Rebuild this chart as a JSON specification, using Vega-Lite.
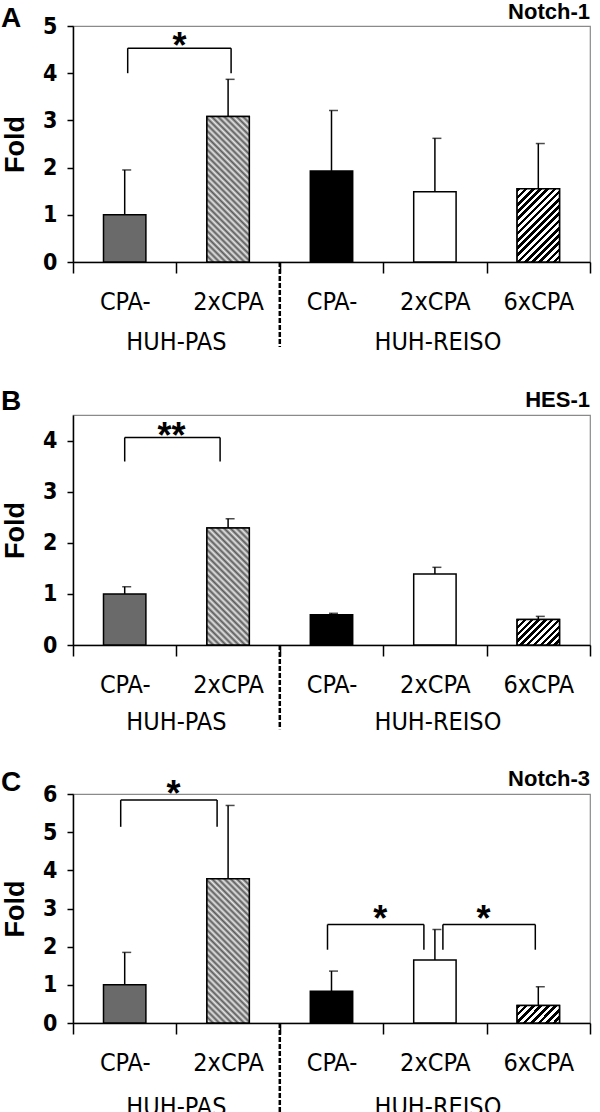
{
  "$schema": "https://vega.github.io/schema/vega-lite/v6.json",
  "padding": {"top": 0, "left": 0, "right": 0, "bottom": 0},
  "background": "white",
  "datasets": {
    "bars": [
      {"panel": "A", "bar": "PAS CPA-", "value": 1.0, "hi": 1.95},
      {"panel": "A", "bar": "PAS 2xCPA", "value": 3.08, "hi": 3.87},
      {"panel": "A", "bar": "REISO CPA-", "value": 1.93, "hi": 3.21},
      {"panel": "A", "bar": "REISO 2xCPA", "value": 1.49, "hi": 2.62},
      {"panel": "A", "bar": "REISO 6xCPA", "value": 1.55, "hi": 2.51},
      {"panel": "B", "bar": "PAS CPA-", "value": 1.0, "hi": 1.14},
      {"panel": "B", "bar": "PAS 2xCPA", "value": 2.29, "hi": 2.47},
      {"panel": "B", "bar": "REISO CPA-", "value": 0.59, "hi": 0.62},
      {"panel": "B", "bar": "REISO 2xCPA", "value": 1.39, "hi": 1.52},
      {"panel": "B", "bar": "REISO 6xCPA", "value": 0.5, "hi": 0.56},
      {"panel": "C", "bar": "PAS CPA-", "value": 1.0, "hi": 1.85},
      {"panel": "C", "bar": "PAS 2xCPA", "value": 3.78, "hi": 5.7},
      {"panel": "C", "bar": "REISO CPA-", "value": 0.83, "hi": 1.36},
      {"panel": "C", "bar": "REISO 2xCPA", "value": 1.65, "hi": 2.45},
      {"panel": "C", "bar": "REISO 6xCPA", "value": 0.46, "hi": 0.95}
    ],
    "brackets": [
      {"panel": "A", "id": 1, "from": "PAS CPA-", "to": "PAS 2xCPA", "top": 4.53, "bot": 4.0, "star": "*"},
      {"panel": "B", "id": 1, "from": "PAS CPA-", "to": "PAS 2xCPA", "top": 4.06, "bot": 3.59, "star": "**"},
      {"panel": "C", "id": 1, "from": "PAS CPA-", "to": "PAS 2xCPA", "top": 5.84, "bot": 5.14, "star": "*"},
      {"panel": "C", "id": 2, "from": "REISO CPA-", "to": "REISO 2xCPA", "top": 2.58, "bot": 1.92, "star": "*"},
      {"panel": "C", "id": 3, "from": "REISO 2xCPA", "to": "REISO 6xCPA", "top": 2.58, "bot": 1.92, "star": "*"}
    ],
    "one": [{}]
  },
  "spacing": 31,
  "resolve": {"scale": {"x": "independent", "y": "independent", "fill": "shared"}},
  "vconcat": [
    {
      "width": 517,
      "height": 236,
      "layer": [
        {
          "data": {"name": "bars"},
          "transform": [{"filter": "datum.panel === 'A'"}],
          "mark": {"type": "bar", "width": {"band": 0.41}, "stroke": "#000", "strokeWidth": 1.5},
          "encoding": {
            "x": {"field": "bar", "type": "nominal", "title": null, "sort": null,
                  "scale": {"domain": ["PAS CPA-", "PAS 2xCPA", "REISO CPA-", "REISO 2xCPA", "REISO 6xCPA"], "paddingInner": 0, "paddingOuter": 0},
                  "axis": {"labelExpr": "split(datum.label, ' ')[1]"}},
            "y": {"field": "value", "type": "quantitative", "title": "Fold",
                  "scale": {"domain": [0, 5], "nice": false}, "axis": {"values": [0, 1, 2, 3, 4, 5], "tickCount": 6, "labelOverlap": false}},
            "fill": {"field": "bar", "type": "nominal", "legend": null,
                     "scale": {"domain": ["PAS CPA-", "PAS 2xCPA", "REISO CPA-", "REISO 2xCPA", "REISO 6xCPA"], "range": ["#6a6a6a", "#ababab", "#000000", "#ffffff", "#ffffff"]}}
          }
        },
        {
          "data": {"name": "bars"},
          "transform": [{"filter": "datum.panel === 'A' && datum.bar === 'PAS 2xCPA'"}],
          "mark": {"type": "bar", "width": {"band": 0.41}, "stroke": "#000", "strokeWidth": 1.5,
                   "fill": {"gradient": "linear", "x1": 0, "y1": 1, "x2": 0.347, "y2": -0.19, "stops": [
                     {"offset": 0, "color": "#5a5a5a"}, {"offset": 0.016667, "color": "#e6e6e6"}, {"offset": 0.033333, "color": "#5a5a5a"}, {"offset": 0.05, "color": "#e6e6e6"},
                     {"offset": 0.066667, "color": "#5a5a5a"}, {"offset": 0.083333, "color": "#e6e6e6"}, {"offset": 0.1, "color": "#5a5a5a"}, {"offset": 0.116667, "color": "#e6e6e6"},
                     {"offset": 0.133333, "color": "#5a5a5a"}, {"offset": 0.15, "color": "#e6e6e6"}, {"offset": 0.166667, "color": "#5a5a5a"}, {"offset": 0.183333, "color": "#e6e6e6"},
                     {"offset": 0.2, "color": "#5a5a5a"}, {"offset": 0.216667, "color": "#e6e6e6"}, {"offset": 0.233333, "color": "#5a5a5a"}, {"offset": 0.25, "color": "#e6e6e6"},
                     {"offset": 0.266667, "color": "#5a5a5a"}, {"offset": 0.283333, "color": "#e6e6e6"}, {"offset": 0.3, "color": "#5a5a5a"}, {"offset": 0.316667, "color": "#e6e6e6"},
                     {"offset": 0.333333, "color": "#5a5a5a"}, {"offset": 0.35, "color": "#e6e6e6"}, {"offset": 0.366667, "color": "#5a5a5a"}, {"offset": 0.383333, "color": "#e6e6e6"},
                     {"offset": 0.4, "color": "#5a5a5a"}, {"offset": 0.416667, "color": "#e6e6e6"}, {"offset": 0.433333, "color": "#5a5a5a"}, {"offset": 0.45, "color": "#e6e6e6"},
                     {"offset": 0.466667, "color": "#5a5a5a"}, {"offset": 0.483333, "color": "#e6e6e6"}, {"offset": 0.5, "color": "#5a5a5a"}, {"offset": 0.516667, "color": "#e6e6e6"},
                     {"offset": 0.533333, "color": "#5a5a5a"}, {"offset": 0.55, "color": "#e6e6e6"}, {"offset": 0.566667, "color": "#5a5a5a"}, {"offset": 0.583333, "color": "#e6e6e6"},
                     {"offset": 0.6, "color": "#5a5a5a"}, {"offset": 0.616667, "color": "#e6e6e6"}, {"offset": 0.633333, "color": "#5a5a5a"}, {"offset": 0.65, "color": "#e6e6e6"},
                     {"offset": 0.666667, "color": "#5a5a5a"}, {"offset": 0.683333, "color": "#e6e6e6"}, {"offset": 0.7, "color": "#5a5a5a"}, {"offset": 0.716667, "color": "#e6e6e6"},
                     {"offset": 0.733333, "color": "#5a5a5a"}, {"offset": 0.75, "color": "#e6e6e6"}, {"offset": 0.766667, "color": "#5a5a5a"}, {"offset": 0.783333, "color": "#e6e6e6"},
                     {"offset": 0.8, "color": "#5a5a5a"}, {"offset": 0.816667, "color": "#e6e6e6"}, {"offset": 0.833333, "color": "#5a5a5a"}, {"offset": 0.85, "color": "#e6e6e6"},
                     {"offset": 0.866667, "color": "#5a5a5a"}, {"offset": 0.883333, "color": "#e6e6e6"}, {"offset": 0.9, "color": "#5a5a5a"}, {"offset": 0.916667, "color": "#e6e6e6"},
                     {"offset": 0.933333, "color": "#5a5a5a"}, {"offset": 0.95, "color": "#e6e6e6"}, {"offset": 0.966667, "color": "#5a5a5a"}, {"offset": 0.983333, "color": "#e6e6e6"},
                     {"offset": 1, "color": "#5a5a5a"}
                   ]}},
          "encoding": {
            "x": {"field": "bar", "type": "nominal", "title": null},
            "y": {"field": "value", "type": "quantitative", "title": "Fold"}
          }
        },
        {
          "data": {"name": "bars"},
          "transform": [{"filter": "datum.panel === 'A' && datum.bar === 'REISO 6xCPA'"}],
          "mark": {"type": "bar", "width": {"band": 0.41}, "stroke": "#000", "strokeWidth": 1.5,
                   "fill": {"gradient": "linear", "x1": 0, "y1": 0, "x2": 0.685, "y2": 1.183, "stops": [
                     {"offset": 0, "color": "#000"}, {"offset": 0.03125, "color": "#000"}, {"offset": 0.03125, "color": "#fff"}, {"offset": 0.0625, "color": "#fff"},
                     {"offset": 0.0625, "color": "#000"}, {"offset": 0.09375, "color": "#000"}, {"offset": 0.09375, "color": "#fff"}, {"offset": 0.125, "color": "#fff"},
                     {"offset": 0.125, "color": "#000"}, {"offset": 0.15625, "color": "#000"}, {"offset": 0.15625, "color": "#fff"}, {"offset": 0.1875, "color": "#fff"},
                     {"offset": 0.1875, "color": "#000"}, {"offset": 0.21875, "color": "#000"}, {"offset": 0.21875, "color": "#fff"}, {"offset": 0.25, "color": "#fff"},
                     {"offset": 0.25, "color": "#000"}, {"offset": 0.28125, "color": "#000"}, {"offset": 0.28125, "color": "#fff"}, {"offset": 0.3125, "color": "#fff"},
                     {"offset": 0.3125, "color": "#000"}, {"offset": 0.34375, "color": "#000"}, {"offset": 0.34375, "color": "#fff"}, {"offset": 0.375, "color": "#fff"},
                     {"offset": 0.375, "color": "#000"}, {"offset": 0.40625, "color": "#000"}, {"offset": 0.40625, "color": "#fff"}, {"offset": 0.4375, "color": "#fff"},
                     {"offset": 0.4375, "color": "#000"}, {"offset": 0.46875, "color": "#000"}, {"offset": 0.46875, "color": "#fff"}, {"offset": 0.5, "color": "#fff"},
                     {"offset": 0.5, "color": "#000"}, {"offset": 0.53125, "color": "#000"}, {"offset": 0.53125, "color": "#fff"}, {"offset": 0.5625, "color": "#fff"},
                     {"offset": 0.5625, "color": "#000"}, {"offset": 0.59375, "color": "#000"}, {"offset": 0.59375, "color": "#fff"}, {"offset": 0.625, "color": "#fff"},
                     {"offset": 0.625, "color": "#000"}, {"offset": 0.65625, "color": "#000"}, {"offset": 0.65625, "color": "#fff"}, {"offset": 0.6875, "color": "#fff"},
                     {"offset": 0.6875, "color": "#000"}, {"offset": 0.71875, "color": "#000"}, {"offset": 0.71875, "color": "#fff"}, {"offset": 0.75, "color": "#fff"},
                     {"offset": 0.75, "color": "#000"}, {"offset": 0.78125, "color": "#000"}, {"offset": 0.78125, "color": "#fff"}, {"offset": 0.8125, "color": "#fff"},
                     {"offset": 0.8125, "color": "#000"}, {"offset": 0.84375, "color": "#000"}, {"offset": 0.84375, "color": "#fff"}, {"offset": 0.875, "color": "#fff"},
                     {"offset": 0.875, "color": "#000"}, {"offset": 0.90625, "color": "#000"}, {"offset": 0.90625, "color": "#fff"}, {"offset": 0.9375, "color": "#fff"},
                     {"offset": 0.9375, "color": "#000"}, {"offset": 0.96875, "color": "#000"}, {"offset": 0.96875, "color": "#fff"}, {"offset": 1, "color": "#fff"}
                   ]}},
          "encoding": {
            "x": {"field": "bar", "type": "nominal", "title": null},
            "y": {"field": "value", "type": "quantitative", "title": "Fold"}
          }
        },
        {
          "data": {"name": "bars"},
          "transform": [{"filter": "datum.panel === 'A'"}],
          "mark": {"type": "rule", "color": "#000", "strokeWidth": 1.5},
          "encoding": {
            "x": {"field": "bar", "type": "nominal", "title": null},
            "y": {"field": "value", "type": "quantitative", "title": "Fold"},
            "y2": {"field": "hi"}
          }
        },
        {
          "data": {"name": "bars"},
          "transform": [{"filter": "datum.panel === 'A'"}],
          "mark": {"type": "tick", "orient": "horizontal", "color": "#000", "size": 9, "thickness": 1.5, "xOffset": 2},
          "encoding": {
            "x": {"field": "bar", "type": "nominal", "title": null},
            "y": {"field": "hi", "type": "quantitative", "title": "Fold"}
          }
        },
        {
          "data": {"name": "brackets"},
          "transform": [{"filter": "datum.panel === 'A'"}],
          "mark": {"type": "rule", "color": "#000", "strokeWidth": 1.5, "xOffset": 3, "x2Offset": 3},
          "encoding": {
            "x": {"field": "from", "type": "nominal", "title": null},
            "x2": {"field": "to"},
            "y": {"field": "top", "type": "quantitative", "title": "Fold"}
          }
        },
        {
          "data": {"name": "brackets"},
          "transform": [{"filter": "datum.panel === 'A'"}],
          "mark": {"type": "rule", "color": "#000", "strokeWidth": 1.5, "xOffset": 3},
          "encoding": {
            "x": {"field": "from", "type": "nominal", "title": null},
            "y": {"field": "top", "type": "quantitative", "title": "Fold"},
            "y2": {"field": "bot"}
          }
        },
        {
          "data": {"name": "brackets"},
          "transform": [{"filter": "datum.panel === 'A'"}],
          "mark": {"type": "rule", "color": "#000", "strokeWidth": 1.5, "xOffset": 3},
          "encoding": {
            "x": {"field": "to", "type": "nominal", "title": null},
            "y": {"field": "top", "type": "quantitative", "title": "Fold"},
            "y2": {"field": "bot"}
          }
        },
        {
          "data": {"name": "brackets"},
          "transform": [{"filter": "datum.panel === 'A'"}],
          "mark": {"type": "text", "fontSize": 36, "fontWeight": "bold", "baseline": "alphabetic", "dy": 10, "dx": 3},
          "encoding": {
            "x": {"field": "to", "type": "nominal", "title": null, "bandPosition": 0},
            "y": {"field": "top", "type": "quantitative", "title": "Fold"},
            "text": {"field": "star"}
          }
        },
        {
          "data": {"name": "one"},
          "mark": {"type": "rule", "color": "#000", "strokeWidth": 2.5, "strokeDash": [5, 2]},
          "encoding": {
            "x": {"datum": "REISO CPA-", "type": "nominal", "bandPosition": 0, "title": null},
            "y": {"datum": 0, "type": "quantitative", "title": "Fold"},
            "y2": {"datum": -1.8}
          }
        },
        {
          "data": {"name": "one"},
          "mark": {"type": "text", "fontSize": 25, "font": "DejaVu Sans Condensed, Liberation Sans, sans-serif", "baseline": "alphabetic", "dy": 88},
          "encoding": {
            "x": {"datum": "PAS 2xCPA", "type": "nominal", "bandPosition": 0, "title": null},
            "y": {"datum": 0, "type": "quantitative", "title": "Fold"},
            "text": {"value": "HUH-PAS"}
          }
        },
        {
          "data": {"name": "one"},
          "mark": {"type": "text", "fontSize": 25, "font": "DejaVu Sans Condensed, Liberation Sans, sans-serif", "baseline": "alphabetic", "dy": 88, "dx": 3},
          "encoding": {
            "x": {"datum": "REISO 2xCPA", "type": "nominal", "bandPosition": 0.5, "title": null},
            "y": {"datum": 0, "type": "quantitative", "title": "Fold"},
            "text": {"value": "HUH-REISO"}
          }
        },
        {
          "data": {"name": "one"},
          "mark": {"type": "text", "fontSize": 22, "fontWeight": "bold", "align": "right", "baseline": "alphabetic", "dy": -7},
          "encoding": {
            "x": {"datum": "REISO 6xCPA", "type": "nominal", "bandPosition": 1, "title": null},
            "y": {"datum": 5, "type": "quantitative", "title": "Fold"},
            "text": {"value": "Notch-1"}
          }
        },
        {
          "data": {"name": "one"},
          "mark": {"type": "text", "fontSize": 28, "fontWeight": "bold", "align": "left", "baseline": "alphabetic", "dx": -72, "dy": 1},
          "encoding": {
            "x": {"datum": "PAS CPA-", "type": "nominal", "bandPosition": 0, "title": null},
            "y": {"datum": 5, "type": "quantitative", "title": "Fold"},
            "text": {"value": "A"}
          }
        }
      ]
    },
    {
      "width": 517,
      "height": 230,
      "layer": [
        {
          "data": {"name": "bars"},
          "transform": [{"filter": "datum.panel === 'B'"}],
          "mark": {"type": "bar", "width": {"band": 0.41}, "stroke": "#000", "strokeWidth": 1.5},
          "encoding": {
            "x": {"field": "bar", "type": "nominal", "title": null, "sort": null,
                  "scale": {"domain": ["PAS CPA-", "PAS 2xCPA", "REISO CPA-", "REISO 2xCPA", "REISO 6xCPA"], "paddingInner": 0, "paddingOuter": 0},
                  "axis": {"labelExpr": "split(datum.label, ' ')[1]"}},
            "y": {"field": "value", "type": "quantitative", "title": "Fold",
                  "scale": {"domain": [0, 4.5], "nice": false}, "axis": {"values": [0, 1, 2, 3, 4], "tickCount": 5, "labelOverlap": false}},
            "fill": {"field": "bar", "type": "nominal", "legend": null,
                     "scale": {"domain": ["PAS CPA-", "PAS 2xCPA", "REISO CPA-", "REISO 2xCPA", "REISO 6xCPA"], "range": ["#6a6a6a", "#ababab", "#000000", "#ffffff", "#ffffff"]}}
          }
        },
        {
          "data": {"name": "bars"},
          "transform": [{"filter": "datum.panel === 'B' && datum.bar === 'PAS 2xCPA'"}],
          "mark": {"type": "bar", "width": {"band": 0.41}, "stroke": "#000", "strokeWidth": 1.5,
                   "fill": {"gradient": "linear", "x1": 0, "y1": 1, "x2": 0.436, "y2": -0.204, "stops": [
                     {"offset": 0, "color": "#5a5a5a"}, {"offset": 0.02, "color": "#e6e6e6"}, {"offset": 0.04, "color": "#5a5a5a"}, {"offset": 0.06, "color": "#e6e6e6"},
                     {"offset": 0.08, "color": "#5a5a5a"}, {"offset": 0.1, "color": "#e6e6e6"}, {"offset": 0.12, "color": "#5a5a5a"}, {"offset": 0.14, "color": "#e6e6e6"},
                     {"offset": 0.16, "color": "#5a5a5a"}, {"offset": 0.18, "color": "#e6e6e6"}, {"offset": 0.2, "color": "#5a5a5a"}, {"offset": 0.22, "color": "#e6e6e6"},
                     {"offset": 0.24, "color": "#5a5a5a"}, {"offset": 0.26, "color": "#e6e6e6"}, {"offset": 0.28, "color": "#5a5a5a"}, {"offset": 0.3, "color": "#e6e6e6"},
                     {"offset": 0.32, "color": "#5a5a5a"}, {"offset": 0.34, "color": "#e6e6e6"}, {"offset": 0.36, "color": "#5a5a5a"}, {"offset": 0.38, "color": "#e6e6e6"},
                     {"offset": 0.4, "color": "#5a5a5a"}, {"offset": 0.42, "color": "#e6e6e6"}, {"offset": 0.44, "color": "#5a5a5a"}, {"offset": 0.46, "color": "#e6e6e6"},
                     {"offset": 0.48, "color": "#5a5a5a"}, {"offset": 0.5, "color": "#e6e6e6"}, {"offset": 0.52, "color": "#5a5a5a"}, {"offset": 0.54, "color": "#e6e6e6"},
                     {"offset": 0.56, "color": "#5a5a5a"}, {"offset": 0.58, "color": "#e6e6e6"}, {"offset": 0.6, "color": "#5a5a5a"}, {"offset": 0.62, "color": "#e6e6e6"},
                     {"offset": 0.64, "color": "#5a5a5a"}, {"offset": 0.66, "color": "#e6e6e6"}, {"offset": 0.68, "color": "#5a5a5a"}, {"offset": 0.7, "color": "#e6e6e6"},
                     {"offset": 0.72, "color": "#5a5a5a"}, {"offset": 0.74, "color": "#e6e6e6"}, {"offset": 0.76, "color": "#5a5a5a"}, {"offset": 0.78, "color": "#e6e6e6"},
                     {"offset": 0.8, "color": "#5a5a5a"}, {"offset": 0.82, "color": "#e6e6e6"}, {"offset": 0.84, "color": "#5a5a5a"}, {"offset": 0.86, "color": "#e6e6e6"},
                     {"offset": 0.88, "color": "#5a5a5a"}, {"offset": 0.9, "color": "#e6e6e6"}, {"offset": 0.92, "color": "#5a5a5a"}, {"offset": 0.94, "color": "#e6e6e6"},
                     {"offset": 0.96, "color": "#5a5a5a"}, {"offset": 0.98, "color": "#e6e6e6"}, {"offset": 1, "color": "#5a5a5a"}
                   ]}},
          "encoding": {
            "x": {"field": "bar", "type": "nominal", "title": null},
            "y": {"field": "value", "type": "quantitative", "title": "Fold"}
          }
        },
        {
          "data": {"name": "bars"},
          "transform": [{"filter": "datum.panel === 'B' && datum.bar === 'REISO 6xCPA'"}],
          "mark": {"type": "bar", "width": {"band": 0.41}, "stroke": "#000", "strokeWidth": 1.5,
                   "fill": {"gradient": "linear", "x1": 0, "y1": 0, "x2": 1.175, "y2": 0.71, "stops": [
                     {"offset": 0, "color": "#000"}, {"offset": 0.05, "color": "#000"}, {"offset": 0.05, "color": "#fff"}, {"offset": 0.1, "color": "#fff"},
                     {"offset": 0.1, "color": "#000"}, {"offset": 0.15, "color": "#000"}, {"offset": 0.15, "color": "#fff"}, {"offset": 0.2, "color": "#fff"},
                     {"offset": 0.2, "color": "#000"}, {"offset": 0.25, "color": "#000"}, {"offset": 0.25, "color": "#fff"}, {"offset": 0.3, "color": "#fff"},
                     {"offset": 0.3, "color": "#000"}, {"offset": 0.35, "color": "#000"}, {"offset": 0.35, "color": "#fff"}, {"offset": 0.4, "color": "#fff"},
                     {"offset": 0.4, "color": "#000"}, {"offset": 0.45, "color": "#000"}, {"offset": 0.45, "color": "#fff"}, {"offset": 0.5, "color": "#fff"},
                     {"offset": 0.5, "color": "#000"}, {"offset": 0.55, "color": "#000"}, {"offset": 0.55, "color": "#fff"}, {"offset": 0.6, "color": "#fff"},
                     {"offset": 0.6, "color": "#000"}, {"offset": 0.65, "color": "#000"}, {"offset": 0.65, "color": "#fff"}, {"offset": 0.7, "color": "#fff"},
                     {"offset": 0.7, "color": "#000"}, {"offset": 0.75, "color": "#000"}, {"offset": 0.75, "color": "#fff"}, {"offset": 0.8, "color": "#fff"},
                     {"offset": 0.8, "color": "#000"}, {"offset": 0.85, "color": "#000"}, {"offset": 0.85, "color": "#fff"}, {"offset": 0.9, "color": "#fff"},
                     {"offset": 0.9, "color": "#000"}, {"offset": 0.95, "color": "#000"}, {"offset": 0.95, "color": "#fff"}, {"offset": 1, "color": "#fff"}
                   ]}},
          "encoding": {
            "x": {"field": "bar", "type": "nominal", "title": null},
            "y": {"field": "value", "type": "quantitative", "title": "Fold"}
          }
        },
        {
          "data": {"name": "bars"},
          "transform": [{"filter": "datum.panel === 'B'"}],
          "mark": {"type": "rule", "color": "#000", "strokeWidth": 1.5},
          "encoding": {
            "x": {"field": "bar", "type": "nominal", "title": null},
            "y": {"field": "value", "type": "quantitative", "title": "Fold"},
            "y2": {"field": "hi"}
          }
        },
        {
          "data": {"name": "bars"},
          "transform": [{"filter": "datum.panel === 'B'"}],
          "mark": {"type": "tick", "orient": "horizontal", "color": "#000", "size": 9, "thickness": 1.5, "xOffset": 2},
          "encoding": {
            "x": {"field": "bar", "type": "nominal", "title": null},
            "y": {"field": "hi", "type": "quantitative", "title": "Fold"}
          }
        },
        {
          "data": {"name": "brackets"},
          "transform": [{"filter": "datum.panel === 'B'"}],
          "mark": {"type": "rule", "color": "#000", "strokeWidth": 1.5, "xOffset": 0, "x2Offset": -8},
          "encoding": {
            "x": {"field": "from", "type": "nominal", "title": null},
            "x2": {"field": "to"},
            "y": {"field": "top", "type": "quantitative", "title": "Fold"}
          }
        },
        {
          "data": {"name": "brackets"},
          "transform": [{"filter": "datum.panel === 'B'"}],
          "mark": {"type": "rule", "color": "#000", "strokeWidth": 1.5, "xOffset": 0},
          "encoding": {
            "x": {"field": "from", "type": "nominal", "title": null},
            "y": {"field": "top", "type": "quantitative", "title": "Fold"},
            "y2": {"field": "bot"}
          }
        },
        {
          "data": {"name": "brackets"},
          "transform": [{"filter": "datum.panel === 'B'"}],
          "mark": {"type": "rule", "color": "#000", "strokeWidth": 1.5, "xOffset": -8},
          "encoding": {
            "x": {"field": "to", "type": "nominal", "title": null},
            "y": {"field": "top", "type": "quantitative", "title": "Fold"},
            "y2": {"field": "bot"}
          }
        },
        {
          "data": {"name": "brackets"},
          "transform": [{"filter": "datum.panel === 'B'"}],
          "mark": {"type": "text", "fontSize": 36, "fontWeight": "bold", "baseline": "alphabetic", "dy": 11, "dx": -5},
          "encoding": {
            "x": {"field": "to", "type": "nominal", "title": null, "bandPosition": 0},
            "y": {"field": "top", "type": "quantitative", "title": "Fold"},
            "text": {"field": "star"}
          }
        },
        {
          "data": {"name": "one"},
          "mark": {"type": "rule", "color": "#000", "strokeWidth": 2.5, "strokeDash": [5, 2]},
          "encoding": {
            "x": {"datum": "REISO CPA-", "type": "nominal", "bandPosition": 0, "title": null},
            "y": {"datum": 0, "type": "quantitative", "title": "Fold"},
            "y2": {"datum": -1.65}
          }
        },
        {
          "data": {"name": "one"},
          "mark": {"type": "text", "fontSize": 25, "font": "DejaVu Sans Condensed, Liberation Sans, sans-serif", "baseline": "alphabetic", "dy": 85},
          "encoding": {
            "x": {"datum": "PAS 2xCPA", "type": "nominal", "bandPosition": 0, "title": null},
            "y": {"datum": 0, "type": "quantitative", "title": "Fold"},
            "text": {"value": "HUH-PAS"}
          }
        },
        {
          "data": {"name": "one"},
          "mark": {"type": "text", "fontSize": 25, "font": "DejaVu Sans Condensed, Liberation Sans, sans-serif", "baseline": "alphabetic", "dy": 85, "dx": 3},
          "encoding": {
            "x": {"datum": "REISO 2xCPA", "type": "nominal", "bandPosition": 0.5, "title": null},
            "y": {"datum": 0, "type": "quantitative", "title": "Fold"},
            "text": {"value": "HUH-REISO"}
          }
        },
        {
          "data": {"name": "one"},
          "mark": {"type": "text", "fontSize": 22, "fontWeight": "bold", "align": "right", "baseline": "alphabetic", "dy": -8},
          "encoding": {
            "x": {"datum": "REISO 6xCPA", "type": "nominal", "bandPosition": 1, "title": null},
            "y": {"datum": 4.5, "type": "quantitative", "title": "Fold"},
            "text": {"value": "HES-1"}
          }
        },
        {
          "data": {"name": "one"},
          "mark": {"type": "text", "fontSize": 28, "fontWeight": "bold", "align": "left", "baseline": "alphabetic", "dx": -72, "dy": -5},
          "encoding": {
            "x": {"datum": "PAS CPA-", "type": "nominal", "bandPosition": 0, "title": null},
            "y": {"datum": 4.5, "type": "quantitative", "title": "Fold"},
            "text": {"value": "B"}
          }
        }
      ]
    },
    {
      "width": 517,
      "height": 229,
      "layer": [
        {
          "data": {"name": "bars"},
          "transform": [{"filter": "datum.panel === 'C'"}],
          "mark": {"type": "bar", "width": {"band": 0.41}, "stroke": "#000", "strokeWidth": 1.5},
          "encoding": {
            "x": {"field": "bar", "type": "nominal", "title": null, "sort": null,
                  "scale": {"domain": ["PAS CPA-", "PAS 2xCPA", "REISO CPA-", "REISO 2xCPA", "REISO 6xCPA"], "paddingInner": 0, "paddingOuter": 0},
                  "axis": {"labelExpr": "split(datum.label, ' ')[1]"}},
            "y": {"field": "value", "type": "quantitative", "title": "Fold",
                  "scale": {"domain": [0, 6], "nice": false}, "axis": {"values": [0, 1, 2, 3, 4, 5, 6], "tickCount": 7, "labelOverlap": false}},
            "fill": {"field": "bar", "type": "nominal", "legend": null,
                     "scale": {"domain": ["PAS CPA-", "PAS 2xCPA", "REISO CPA-", "REISO 2xCPA", "REISO 6xCPA"], "range": ["#6a6a6a", "#ababab", "#000000", "#ffffff", "#ffffff"]}}
          }
        },
        {
          "data": {"name": "bars"},
          "transform": [{"filter": "datum.panel === 'C' && datum.bar === 'PAS 2xCPA'"}],
          "mark": {"type": "bar", "width": {"band": 0.41}, "stroke": "#000", "strokeWidth": 1.5,
                   "fill": {"gradient": "linear", "x1": 0, "y1": 1, "x2": 0.35, "y2": -0.19, "stops": [
                     {"offset": 0, "color": "#5a5a5a"}, {"offset": 0.016667, "color": "#e6e6e6"}, {"offset": 0.033333, "color": "#5a5a5a"}, {"offset": 0.05, "color": "#e6e6e6"},
                     {"offset": 0.066667, "color": "#5a5a5a"}, {"offset": 0.083333, "color": "#e6e6e6"}, {"offset": 0.1, "color": "#5a5a5a"}, {"offset": 0.116667, "color": "#e6e6e6"},
                     {"offset": 0.133333, "color": "#5a5a5a"}, {"offset": 0.15, "color": "#e6e6e6"}, {"offset": 0.166667, "color": "#5a5a5a"}, {"offset": 0.183333, "color": "#e6e6e6"},
                     {"offset": 0.2, "color": "#5a5a5a"}, {"offset": 0.216667, "color": "#e6e6e6"}, {"offset": 0.233333, "color": "#5a5a5a"}, {"offset": 0.25, "color": "#e6e6e6"},
                     {"offset": 0.266667, "color": "#5a5a5a"}, {"offset": 0.283333, "color": "#e6e6e6"}, {"offset": 0.3, "color": "#5a5a5a"}, {"offset": 0.316667, "color": "#e6e6e6"},
                     {"offset": 0.333333, "color": "#5a5a5a"}, {"offset": 0.35, "color": "#e6e6e6"}, {"offset": 0.366667, "color": "#5a5a5a"}, {"offset": 0.383333, "color": "#e6e6e6"},
                     {"offset": 0.4, "color": "#5a5a5a"}, {"offset": 0.416667, "color": "#e6e6e6"}, {"offset": 0.433333, "color": "#5a5a5a"}, {"offset": 0.45, "color": "#e6e6e6"},
                     {"offset": 0.466667, "color": "#5a5a5a"}, {"offset": 0.483333, "color": "#e6e6e6"}, {"offset": 0.5, "color": "#5a5a5a"}, {"offset": 0.516667, "color": "#e6e6e6"},
                     {"offset": 0.533333, "color": "#5a5a5a"}, {"offset": 0.55, "color": "#e6e6e6"}, {"offset": 0.566667, "color": "#5a5a5a"}, {"offset": 0.583333, "color": "#e6e6e6"},
                     {"offset": 0.6, "color": "#5a5a5a"}, {"offset": 0.616667, "color": "#e6e6e6"}, {"offset": 0.633333, "color": "#5a5a5a"}, {"offset": 0.65, "color": "#e6e6e6"},
                     {"offset": 0.666667, "color": "#5a5a5a"}, {"offset": 0.683333, "color": "#e6e6e6"}, {"offset": 0.7, "color": "#5a5a5a"}, {"offset": 0.716667, "color": "#e6e6e6"},
                     {"offset": 0.733333, "color": "#5a5a5a"}, {"offset": 0.75, "color": "#e6e6e6"}, {"offset": 0.766667, "color": "#5a5a5a"}, {"offset": 0.783333, "color": "#e6e6e6"},
                     {"offset": 0.8, "color": "#5a5a5a"}, {"offset": 0.816667, "color": "#e6e6e6"}, {"offset": 0.833333, "color": "#5a5a5a"}, {"offset": 0.85, "color": "#e6e6e6"},
                     {"offset": 0.866667, "color": "#5a5a5a"}, {"offset": 0.883333, "color": "#e6e6e6"}, {"offset": 0.9, "color": "#5a5a5a"}, {"offset": 0.916667, "color": "#e6e6e6"},
                     {"offset": 0.933333, "color": "#5a5a5a"}, {"offset": 0.95, "color": "#e6e6e6"}, {"offset": 0.966667, "color": "#5a5a5a"}, {"offset": 0.983333, "color": "#e6e6e6"},
                     {"offset": 1, "color": "#5a5a5a"}
                   ]}},
          "encoding": {
            "x": {"field": "bar", "type": "nominal", "title": null},
            "y": {"field": "value", "type": "quantitative", "title": "Fold"}
          }
        },
        {
          "data": {"name": "bars"},
          "transform": [{"filter": "datum.panel === 'C' && datum.bar === 'REISO 6xCPA'"}],
          "mark": {"type": "bar", "width": {"band": 0.41}, "stroke": "#000", "strokeWidth": 1.5,
                   "fill": {"gradient": "linear", "x1": 0, "y1": 0, "x2": 1.207, "y2": 0.49, "stops": [
                     {"offset": 0, "color": "#000"}, {"offset": 0.0625, "color": "#000"}, {"offset": 0.0625, "color": "#fff"}, {"offset": 0.125, "color": "#fff"},
                     {"offset": 0.125, "color": "#000"}, {"offset": 0.1875, "color": "#000"}, {"offset": 0.1875, "color": "#fff"}, {"offset": 0.25, "color": "#fff"},
                     {"offset": 0.25, "color": "#000"}, {"offset": 0.3125, "color": "#000"}, {"offset": 0.3125, "color": "#fff"}, {"offset": 0.375, "color": "#fff"},
                     {"offset": 0.375, "color": "#000"}, {"offset": 0.4375, "color": "#000"}, {"offset": 0.4375, "color": "#fff"}, {"offset": 0.5, "color": "#fff"},
                     {"offset": 0.5, "color": "#000"}, {"offset": 0.5625, "color": "#000"}, {"offset": 0.5625, "color": "#fff"}, {"offset": 0.625, "color": "#fff"},
                     {"offset": 0.625, "color": "#000"}, {"offset": 0.6875, "color": "#000"}, {"offset": 0.6875, "color": "#fff"}, {"offset": 0.75, "color": "#fff"},
                     {"offset": 0.75, "color": "#000"}, {"offset": 0.8125, "color": "#000"}, {"offset": 0.8125, "color": "#fff"}, {"offset": 0.875, "color": "#fff"},
                     {"offset": 0.875, "color": "#000"}, {"offset": 0.9375, "color": "#000"}, {"offset": 0.9375, "color": "#fff"}, {"offset": 1, "color": "#fff"}
                   ]}},
          "encoding": {
            "x": {"field": "bar", "type": "nominal", "title": null},
            "y": {"field": "value", "type": "quantitative", "title": "Fold"}
          }
        },
        {
          "data": {"name": "bars"},
          "transform": [{"filter": "datum.panel === 'C'"}],
          "mark": {"type": "rule", "color": "#000", "strokeWidth": 1.5},
          "encoding": {
            "x": {"field": "bar", "type": "nominal", "title": null},
            "y": {"field": "value", "type": "quantitative", "title": "Fold"},
            "y2": {"field": "hi"}
          }
        },
        {
          "data": {"name": "bars"},
          "transform": [{"filter": "datum.panel === 'C'"}],
          "mark": {"type": "tick", "orient": "horizontal", "color": "#000", "size": 9, "thickness": 1.5, "xOffset": 2},
          "encoding": {
            "x": {"field": "bar", "type": "nominal", "title": null},
            "y": {"field": "hi", "type": "quantitative", "title": "Fold"}
          }
        },
        {
          "data": {"name": "brackets"},
          "transform": [{"filter": "datum.panel === 'C' && datum.id < 3"}],
          "mark": {"type": "rule", "color": "#000", "strokeWidth": 1.5, "xOffset": -4, "x2Offset": -11},
          "encoding": {
            "x": {"field": "from", "type": "nominal", "title": null},
            "x2": {"field": "to"},
            "y": {"field": "top", "type": "quantitative", "title": "Fold"}
          }
        },
        {
          "data": {"name": "brackets"},
          "transform": [{"filter": "datum.panel === 'C' && datum.id < 3"}],
          "mark": {"type": "rule", "color": "#000", "strokeWidth": 1.5, "xOffset": -4},
          "encoding": {
            "x": {"field": "from", "type": "nominal", "title": null},
            "y": {"field": "top", "type": "quantitative", "title": "Fold"},
            "y2": {"field": "bot"}
          }
        },
        {
          "data": {"name": "brackets"},
          "transform": [{"filter": "datum.panel === 'C' && datum.id < 3"}],
          "mark": {"type": "rule", "color": "#000", "strokeWidth": 1.5, "xOffset": -11},
          "encoding": {
            "x": {"field": "to", "type": "nominal", "title": null},
            "y": {"field": "top", "type": "quantitative", "title": "Fold"},
            "y2": {"field": "bot"}
          }
        },
        {
          "data": {"name": "brackets"},
          "transform": [{"filter": "datum.panel === 'C' && datum.id === 3"}],
          "mark": {"type": "rule", "color": "#000", "strokeWidth": 1.5, "xOffset": 8, "x2Offset": -3},
          "encoding": {
            "x": {"field": "from", "type": "nominal", "title": null},
            "x2": {"field": "to"},
            "y": {"field": "top", "type": "quantitative", "title": "Fold"}
          }
        },
        {
          "data": {"name": "brackets"},
          "transform": [{"filter": "datum.panel === 'C' && datum.id === 3"}],
          "mark": {"type": "rule", "color": "#000", "strokeWidth": 1.5, "xOffset": 8},
          "encoding": {
            "x": {"field": "from", "type": "nominal", "title": null},
            "y": {"field": "top", "type": "quantitative", "title": "Fold"},
            "y2": {"field": "bot"}
          }
        },
        {
          "data": {"name": "brackets"},
          "transform": [{"filter": "datum.panel === 'C' && datum.id === 3"}],
          "mark": {"type": "rule", "color": "#000", "strokeWidth": 1.5, "xOffset": -3},
          "encoding": {
            "x": {"field": "to", "type": "nominal", "title": null},
            "y": {"field": "top", "type": "quantitative", "title": "Fold"},
            "y2": {"field": "bot"}
          }
        },
        {
          "data": {"name": "brackets"},
          "transform": [{"filter": "datum.panel === 'C'"}],
          "mark": {"type": "text", "fontSize": 36, "fontWeight": "bold", "baseline": "alphabetic", "dy": 6, "dx": -3},
          "encoding": {
            "x": {"field": "to", "type": "nominal", "title": null, "bandPosition": 0},
            "y": {"field": "top", "type": "quantitative", "title": "Fold"},
            "text": {"field": "star"}
          }
        },
        {
          "data": {"name": "one"},
          "mark": {"type": "rule", "color": "#000", "strokeWidth": 2.5, "strokeDash": [5, 2]},
          "encoding": {
            "x": {"datum": "REISO CPA-", "type": "nominal", "bandPosition": 0, "title": null},
            "y": {"datum": 0, "type": "quantitative", "title": "Fold"},
            "y2": {"datum": -2.4}
          }
        },
        {
          "data": {"name": "one"},
          "mark": {"type": "text", "fontSize": 25, "font": "DejaVu Sans Condensed, Liberation Sans, sans-serif", "baseline": "alphabetic", "dy": 92},
          "encoding": {
            "x": {"datum": "PAS 2xCPA", "type": "nominal", "bandPosition": 0, "title": null},
            "y": {"datum": 0, "type": "quantitative", "title": "Fold"},
            "text": {"value": "HUH-PAS"}
          }
        },
        {
          "data": {"name": "one"},
          "mark": {"type": "text", "fontSize": 25, "font": "DejaVu Sans Condensed, Liberation Sans, sans-serif", "baseline": "alphabetic", "dy": 92, "dx": 3},
          "encoding": {
            "x": {"datum": "REISO 2xCPA", "type": "nominal", "bandPosition": 0.5, "title": null},
            "y": {"datum": 0, "type": "quantitative", "title": "Fold"},
            "text": {"value": "HUH-REISO"}
          }
        },
        {
          "data": {"name": "one"},
          "mark": {"type": "text", "fontSize": 22, "fontWeight": "bold", "align": "right", "baseline": "alphabetic", "dy": -8},
          "encoding": {
            "x": {"datum": "REISO 6xCPA", "type": "nominal", "bandPosition": 1, "title": null},
            "y": {"datum": 6, "type": "quantitative", "title": "Fold"},
            "text": {"value": "Notch-3"}
          }
        },
        {
          "data": {"name": "one"},
          "mark": {"type": "text", "fontSize": 28, "fontWeight": "bold", "align": "left", "baseline": "alphabetic", "dx": -72, "dy": -3},
          "encoding": {
            "x": {"datum": "PAS CPA-", "type": "nominal", "bandPosition": 0, "title": null},
            "y": {"datum": 6, "type": "quantitative", "title": "Fold"},
            "text": {"value": "C"}
          }
        }
      ]
    }
  ],
  "config": {
    "view": {"stroke": "#8a8a8a", "strokeWidth": 1.2},
    "text": {"font": "Liberation Sans", "color": "#000"},
    "axisX": {"labelAngle": 0, "tickBand": "extent", "tickSize": 11, "labelPadding": 16, "labelFontSize": 25,
              "labelFont": "DejaVu Sans Condensed, Liberation Sans, sans-serif", "labelColor": "#000", "labelBaseline": "top",
              "domainColor": "#000", "tickColor": "#000", "domainWidth": 1.5, "tickWidth": 1.5, "grid": false},
    "axisY": {"tickSize": 6, "labelPadding": 10, "labelFontSize": 23, "labelFontWeight": "bold", "labelOverlap": false,
              "labelFont": "DejaVu Sans Condensed, Liberation Sans, sans-serif", "labelColor": "#000",
              "domainColor": "#000", "tickColor": "#000", "domainWidth": 1.5, "tickWidth": 1.5, "grid": false,
              "titleFont": "Liberation Sans", "titleFontSize": 27, "titleFontWeight": "bold", "titleColor": "#000", "titlePadding": 13}
  }
}
